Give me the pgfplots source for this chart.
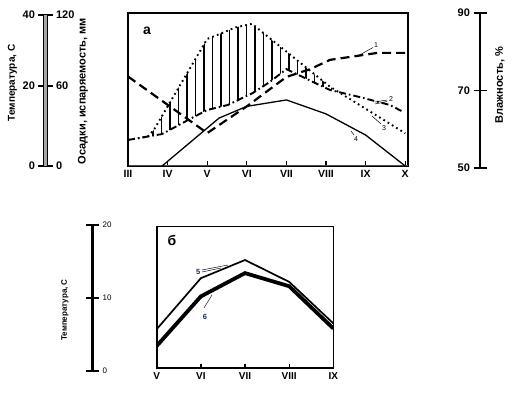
\documentclass[border=0pt]{standalone}
\usepackage{fontspec}
\setmainfont{Liberation Sans}
\usepackage{pgfplots}
\pgfplotsset{compat=1.18}
\usetikzlibrary{patterns.meta}
\definecolor{navyl}{RGB}{30,40,110}

\pgfplotstableread{
x y
0 20.7
0.5 23.4
0.65 28.5
2 101
2.4 106
2.7 110
3.13 113
5.1 63
6 45.5
7 26
}\precip
\pgfplotstableread{
x y
0 20.7
0.86 25.4
1.61 38.1
2 44.5
2.52 48.5
3.15 58
3.58 66.8
4 77
4.59 68
5.1 60.4
5.85 54.8
6.61 48.5
6.95 43
}\evap
\pgfplotstableread{
x y
0.5 23.4
0.65 28.5
2 101
2.4 106
2.7 110
3.13 113
5.1 63
5.3 59.1
5.1 60.4
4.59 68
4 77
3.58 66.8
3.15 58
2.52 48.5
2 44.5
1.61 38.1
0.86 25.4
0.5 23.4
}\hatcharea
\pgfplotstableread{
x y
0 73.6
1 66.3
2 59.0
3 65.9
4 73.5
4.6 75.5
5.1 77.9
5.7 78.8
6.3 79.7
7.07 79.7
}\humid
\pgfplotstableread{
x y
0.86 0
2.3 12.7
3 15.8
4 17.5
5 13.8
6 8.2
7 0
}\tempa
\pgfplotstableread{
x y
0 5.7
1 12.7
2 15.2
3 12.2
4 6.5
}\tfive
\pgfplotstableread{
x y
0 3.4
1 10.2
2 13.4
3 11.6
4 5.8
}\tsix

\begin{document}
\begin{tikzpicture}
\pgfplotsset{
  panelA/.style={at={(128pt,-166pt)}, anchor=south west, scale only axis,
    width=280pt, height=153pt, xmin=0, xmax=7.07},
  bar/.style={scale only axis, width=5pt, xmin=0, xmax=1, hide x axis,
    tick align=center, every tick/.style={black, line width=1.6pt}},
  tl/.style={font=\fontsize{11}{12}\selectfont\bfseries},
}
% ---------- top panel ----------
\begin{axis}[panelA, ymin=0, ymax=121.6,
  xtick={0,1,2,3,4,5,6,7}, xticklabels={III,IV,V,VI,VII,VIII,IX,X},
  ytick=\empty, tick pos=left, tick align=inside, major tick length=5pt,
  axis line style={line width=1.4pt},
  every tick/.style={black, line width=1.1pt},
  xticklabel style={font=\fontsize{10.5}{12}\selectfont\bfseries, inner sep=1.5pt, yshift=-3pt}]
\addplot[draw=none, pattern={Lines[angle=90, distance=8.5pt, line width=1.3pt]}, pattern color=black] table {\hatcharea};
\addplot[black, line width=1.9pt, dash pattern=on 1.7pt off 3.3pt] table {\precip};
\addplot[black, line width=1.9pt, dash pattern=on 7pt off 3pt on 1.6pt off 3pt] table {\evap};
\draw[line width=2.6pt, black!70] (axis cs:0,0) -- (axis cs:7.07,0);
\draw[line width=2.2pt] (axis cs:0,0) -- (axis cs:0,121.6);
\end{axis}
\begin{axis}[panelA, ymin=50.5, ymax=90, hide axis]
\addplot[black, line width=2.2pt, dash pattern=on 9pt off 5pt] table {\humid};
\end{axis}
\begin{axis}[panelA, ymin=0, ymax=40.53, hide axis]
\addplot[black, line width=1.3pt] table {\tempa};
\end{axis}
% annotations top
\node[font=\fontsize{14}{14}\selectfont\bfseries] at (147pt,-31pt) {а};
\begin{scope}[line width=0.5pt, every node/.style={font=\fontsize{7}{7}\selectfont, inner sep=0.5pt}]
\node at (376pt,-45pt) {1}; \draw (356pt,-57pt) -- (373pt,-47.5pt);
\node at (391pt,-99pt) {2}; \draw (375pt,-102pt) -- (387pt,-100pt); \draw (375pt,-104pt) -- (387pt,-101.5pt);
\node at (384pt,-128pt) {3}; \draw (372pt,-116pt) -- (381pt,-124pt);
\node at (356pt,-139pt) {4}; \draw (351pt,-131pt) -- (354pt,-135pt);
\end{scope}
% left scale bars top
\begin{axis}[bar, at={(45.5pt,-166pt)}, anchor=south west, height=151pt,
  ymin=0, ymax=40, axis y line*=left, ytick={0,21.2,40}, yticklabels={0,20,40},
  major tick length=14pt, y axis line style={-, line width=1pt, double=gray!70, double distance=2.2pt},
  yticklabel style={tl}]
\addplot[draw=none, forget plot] coordinates {(0,0) (1,40)};
\end{axis}
\begin{axis}[bar, at={(45.5pt,-166pt)}, anchor=south east, height=151pt,
  ymin=0, ymax=120, axis y line*=right, ytick={0,63.6,120}, yticklabels={0,60,120},
  major tick length=14pt, y axis line style={-, line width=1pt, double=gray!70, double distance=2.2pt},
  yticklabel style={tl}]
\addplot[draw=none, forget plot] coordinates {(0,0) (1,120)};
\end{axis}
\node[rotate=90, font=\fontsize{10}{11}\selectfont\bfseries] at (12.5pt,-83pt) {Температура, С};
\node[rotate=90, font=\fontsize{11}{12}\selectfont\bfseries] at (83pt,-91pt) {Осадки, испаряемость, мм};
% right scale bar
\begin{axis}[bar, at={(480pt,-168pt)}, anchor=south west, height=155pt,
  ymin=50, ymax=90, axis y line*=left, ytick={50,70,90}, yticklabels={50,70,90},
  major tick length=13pt, y axis line style={-, line width=1.8pt},
  yticklabel style={tl}]
\addplot[draw=none, forget plot] coordinates {(0,50) (1,90)};
\end{axis}
\node[rotate=90, font=\fontsize{11}{12}\selectfont\bfseries] at (500pt,-85pt) {Влажность, \%};
% ---------- bottom panel ----------
\begin{axis}[at={(156.7pt,-368.3pt)}, anchor=south west, scale only axis,
  width=176.6pt, height=141.8pt, xmin=0, xmax=4, ymin=0.33, ymax=19.8,
  xtick={0,1,2,3,4}, xticklabels={V,VI,VII,VIII,IX},
  ytick=\empty, tick pos=left, tick align=inside, major tick length=4.5pt,
  axis line style={line width=1.2pt},
  every tick/.style={black, line width=1.3pt},
  xticklabel style={font=\fontsize{10}{11}\selectfont\bfseries, inner sep=1.5pt, yshift=-3pt}]
\addplot[black, line width=1.7pt] table {\tfive};
\addplot[black, line width=3.8pt] table {\tsix};
\draw[line width=2.4pt] (axis cs:0,19.8) -- (axis cs:0,0.33) -- (axis cs:4,0.33);
\end{axis}
\node[font=\fontsize{14}{14}\selectfont\bfseries] at (172pt,-240pt) {б};
\begin{scope}[line width=0.45pt, every node/.style={font=\fontsize{7.5}{8}\selectfont\bfseries, text=navyl, inner sep=0.5pt}]
\node at (198.3pt,-271.7pt) {5}; \draw (202pt,-270pt) -- (228pt,-265pt); \draw (202pt,-272pt) -- (221pt,-268pt);
\node at (205pt,-317pt) {6}; \draw (204pt,-308pt) -- (212pt,-295pt);
\end{scope}
\begin{axis}[bar, at={(92.7pt,-370.7pt)}, anchor=south east, height=145.7pt,
  ymin=0, ymax=20, axis y line*=right, ytick={0,10,20}, yticklabels={0,10,20},
  major tick length=13pt, every tick/.style={black, line width=2pt},
  y axis line style={-, line width=3pt},
  yticklabel style={font=\fontsize{8}{9}\selectfont}]
\addplot[draw=none, forget plot] coordinates {(0,0) (1,20)};
\end{axis}
\node[rotate=90, font=\fontsize{8}{9}\selectfont\bfseries] at (65pt,-310pt) {Температура, С};
\path (0pt,0pt) rectangle (524pt,-398pt);
\end{tikzpicture}
\end{document}
